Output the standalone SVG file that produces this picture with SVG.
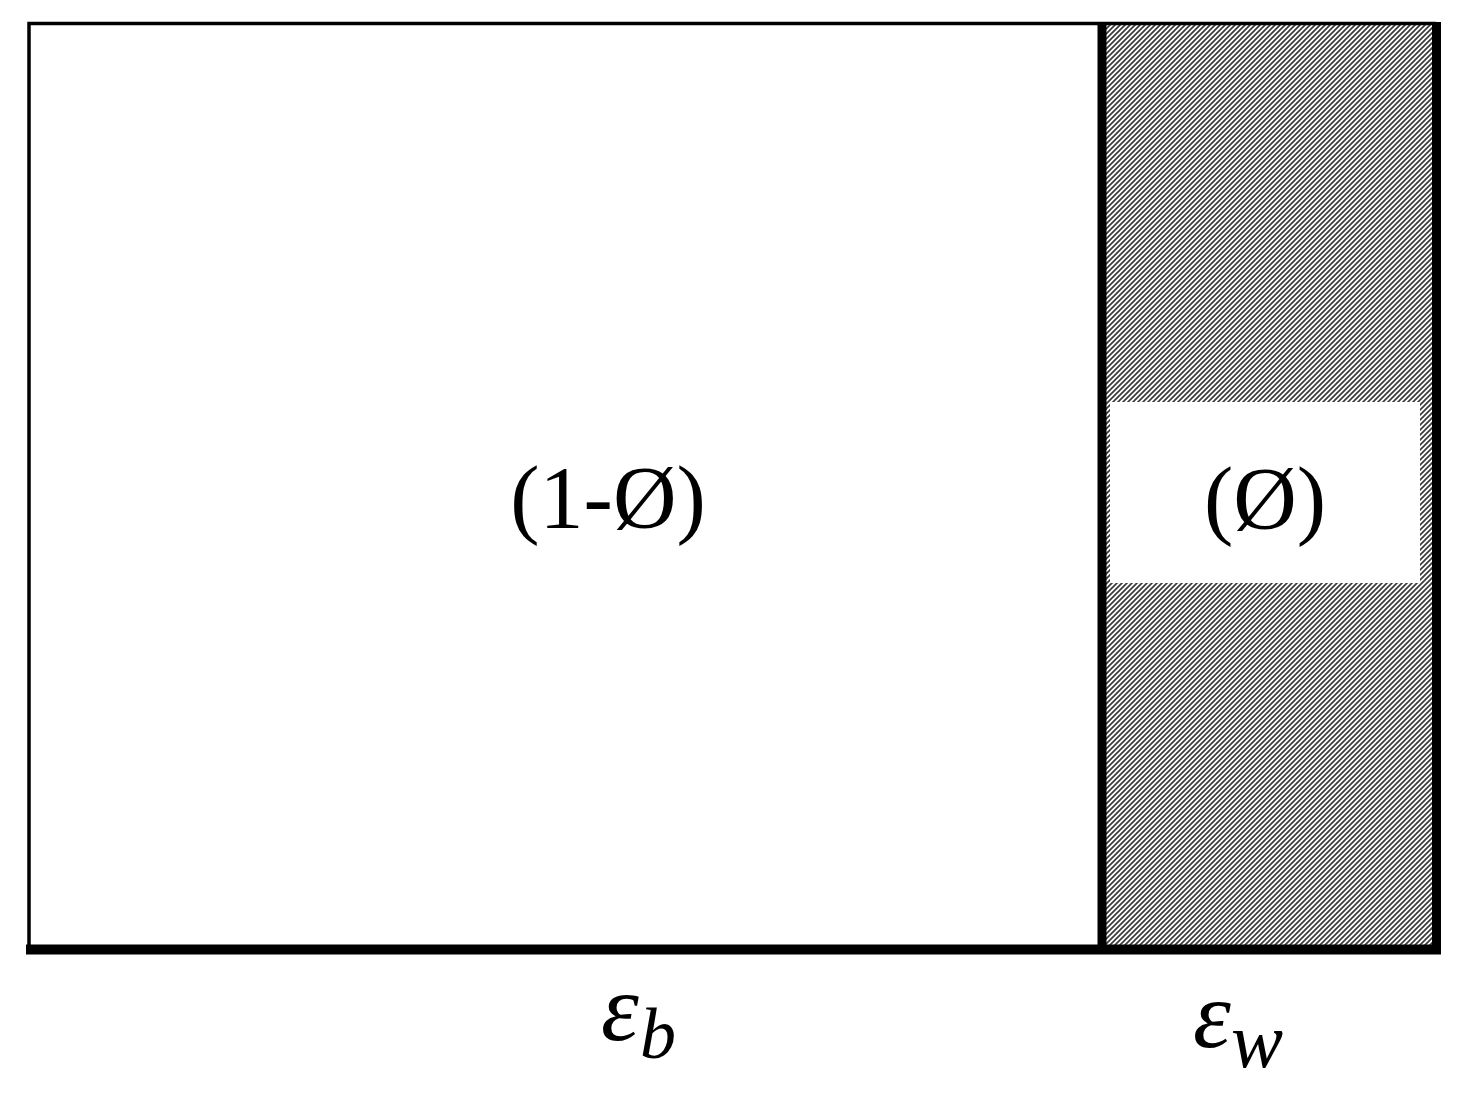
<svg xmlns="http://www.w3.org/2000/svg" width="1469" height="1097" viewBox="0 0 1469 1097">
<style>
.lbl{font-family:"Liberation Serif","DejaVu Serif",serif;font-size:88px;fill:#000}
.sym{font-family:"Liberation Serif","DejaVu Serif",serif;font-style:italic;fill:#000}
</style>
<defs>
<pattern id="hatch" patternUnits="userSpaceOnUse" width="5" height="5">
<rect width="5" height="5" fill="#fff"/>
<path d="M0,5 L5,0 M-1,1 L1,-1 M4,6 L6,4" stroke="#3a3a3a" stroke-width="1.7"/>
</pattern>
</defs>
<rect width="1469" height="1097" fill="#fff"/>
<g id="solid">
<rect x="29" y="23.5" width="1072" height="925" fill="#fff" stroke="none"/>
<text class="lbl" x="608" y="527" text-anchor="middle">(1-Ø)</text>
</g>
<g id="water">
<rect x="1103" y="25" width="332" height="922" fill="url(#hatch)"/>
<rect x="1110" y="402" width="310" height="181" fill="#fff"/>
<text class="lbl" x="1265" y="528" text-anchor="middle">(Ø)</text>
</g>
<g id="frame" fill="none" stroke="#000">
<path d="M29,949 L29,23.5 L1436,23.5" stroke-width="3.5"/>
<line x1="1102" y1="23" x2="1102" y2="950" stroke-width="9"/>
<line x1="1436.5" y1="22" x2="1436.5" y2="954" stroke-width="9"/>
<line x1="26" y1="949.5" x2="1441" y2="949.5" stroke-width="10"/>
</g>
<g id="labels">
<text class="sym" x="601" y="1040" font-size="96">ε</text>
<text class="sym" x="640" y="1058" font-size="72">b</text>
<text class="sym" x="1193" y="1047" font-size="96">ε</text>
<text class="sym" x="1231" y="1067" font-size="78">w</text>
</g>
</svg>
